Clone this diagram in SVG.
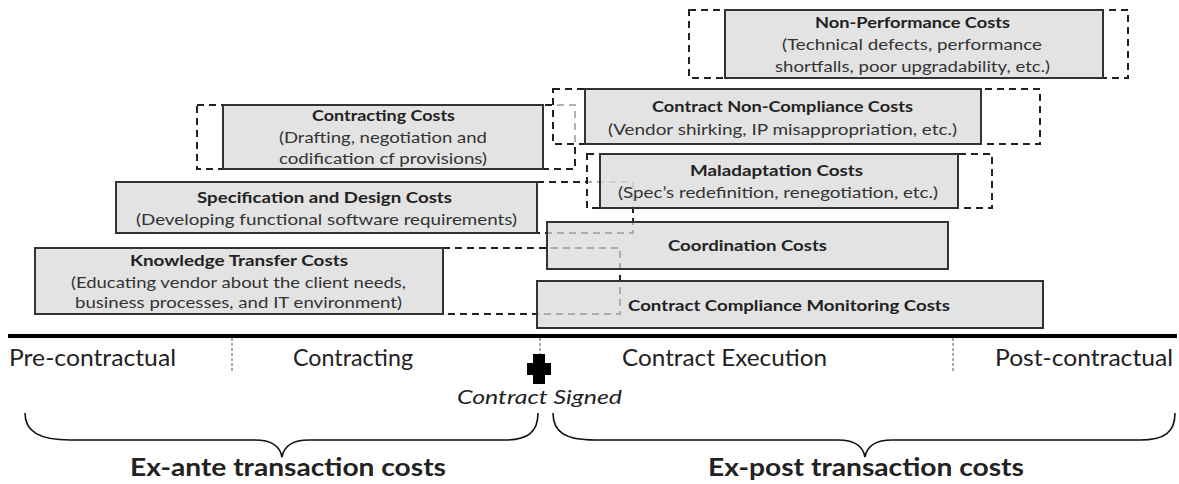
<svg xmlns="http://www.w3.org/2000/svg" width="1179" height="484" viewBox="0 0 1179 484">
<style>
text{font-family:Lato,'Liberation Sans',sans-serif;fill:#222}
.t{font-weight:bold;font-size:16px;text-anchor:middle}
.b{font-size:16px;text-anchor:middle;fill:#333}
.box{fill:#d9d9d9;fill-opacity:0.75;stroke:#333;stroke-width:2}
.dash{fill:#fff;fill-opacity:0.65;stroke:#222;stroke-width:2;stroke-dasharray:7 5}
.sep{stroke:#555;stroke-width:1;stroke-dasharray:3 2;fill:none}
.ph{font-size:24px}
.ex{font-size:25px;font-weight:bold;text-anchor:middle}
.brace{fill:none;stroke:#111;stroke-width:1.6}
</style>
<rect width="1179" height="484" fill="#fff"/>
<g id="connectors">
<rect class="dash" x="197" y="105" width="378" height="64"/>
<rect class="dash" x="537" y="182" width="96" height="51"/>
<rect class="dash" x="443" y="248" width="177" height="66"/>
<rect class="dash" x="553" y="89" width="487" height="55"/>
<rect class="dash" x="587" y="154" width="405" height="54"/>
<rect class="dash" x="689" y="10" width="439" height="68"/>
</g>
<g id="non-performance">
<rect class="box" x="725" y="10" width="378" height="68"/>
<text class="t" x="912.5" y="28" textLength="195" lengthAdjust="spacingAndGlyphs">Non-Performance Costs</text>
<text class="b" x="912" y="50" textLength="260" lengthAdjust="spacingAndGlyphs">(Technical defects, performance</text>
<text class="b" x="912.5" y="72" textLength="275" lengthAdjust="spacingAndGlyphs">shortfalls, poor upgradability, etc.)</text>
</g>
<g id="contracting">
<rect class="box" x="223" y="105" width="320" height="64"/>
<text class="t" x="383.5" y="121" textLength="143" lengthAdjust="spacingAndGlyphs">Contracting Costs</text>
<text class="b" x="383" y="143" textLength="208" lengthAdjust="spacingAndGlyphs">(Drafting, negotiation and</text>
<text class="b" x="383" y="164" textLength="208" lengthAdjust="spacingAndGlyphs">codification cf provisions)</text>
</g>
<g id="non-compliance">
<rect class="box" x="585" y="89" width="396" height="55"/>
<text class="t" x="782.5" y="112" textLength="261" lengthAdjust="spacingAndGlyphs">Contract Non-Compliance Costs</text>
<text class="b" x="782.5" y="135" textLength="349" lengthAdjust="spacingAndGlyphs">(Vendor shirking, IP misappropriation, etc.)</text>
</g>
<g id="maladaptation">
<rect class="box" x="600" y="154" width="358" height="54"/>
<text class="t" x="776.5" y="176" textLength="173" lengthAdjust="spacingAndGlyphs">Maladaptation Costs</text>
<text class="b" x="778" y="198" textLength="320" lengthAdjust="spacingAndGlyphs">(Spec’s redefinition, renegotiation, etc.)</text>
</g>
<g id="specification">
<rect class="box" x="116" y="182" width="421" height="51"/>
<text class="t" x="324.5" y="203" textLength="255" lengthAdjust="spacingAndGlyphs">Specification and Design Costs</text>
<text class="b" x="326.5" y="225" textLength="381" lengthAdjust="spacingAndGlyphs">(Developing functional software requirements)</text>
</g>
<g id="knowledge">
<rect class="box" x="35" y="248" width="408" height="66"/>
<text class="t" x="239" y="266" textLength="218" lengthAdjust="spacingAndGlyphs">Knowledge Transfer Costs</text>
<text class="b" x="238.5" y="288" textLength="335" lengthAdjust="spacingAndGlyphs">(Educating vendor about the client needs,</text>
<text class="b" x="238.5" y="308" textLength="327" lengthAdjust="spacingAndGlyphs">business processes, and IT environment)</text>
</g>
<g id="coordination">
<rect class="box" x="547" y="222" width="401" height="47"/>
<text class="t" x="747.5" y="251" textLength="159" lengthAdjust="spacingAndGlyphs">Coordination Costs</text>
</g>
<g id="compliance">
<rect class="box" x="537" y="281" width="506" height="47"/>
<text class="t" x="789" y="311" textLength="322" lengthAdjust="spacingAndGlyphs">Contract Compliance Monitoring Costs</text>
</g>
<g id="timeline">
<line x1="8" y1="336" x2="1177" y2="336" stroke="#000" stroke-width="4"/>
<line class="sep" x1="232" y1="338" x2="232" y2="373"/>
<line class="sep" x1="540" y1="338" x2="540" y2="354"/>
<line class="sep" x1="953" y1="338" x2="953" y2="373"/>
<text class="ph" x="9" y="366" textLength="167" lengthAdjust="spacingAndGlyphs">Pre-contractual</text>
<text class="ph" x="293" y="366" textLength="120" lengthAdjust="spacingAndGlyphs">Contracting</text>
<text class="ph" x="622" y="366" textLength="205" lengthAdjust="spacingAndGlyphs">Contract Execution</text>
<text class="ph" x="995" y="366" textLength="178" lengthAdjust="spacingAndGlyphs">Post-contractual</text>
</g>
<g id="contract-signed">
<path d="M533,354 h12 v9 h6 v12 h-6 v9 h-12 v-9 h-6 v-12 h6 z" fill="#000"/>
<text x="457" y="404" font-size="20" font-style="italic" textLength="165" lengthAdjust="spacingAndGlyphs">Contract Signed</text>
</g>
<g id="ex-ante">
<path class="brace" d="M25,413 C25,432 40,440 70,440 L255,440 C272,440 280,446 282,457 C284,446 292,440 309,440 L505,440 C528,440 538,432 538,413"/>
<text class="ex" x="288" y="476" textLength="316" lengthAdjust="spacingAndGlyphs">Ex-ante transaction costs</text>
</g>
<g id="ex-post">
<path class="brace" d="M553,413 C553,432 565,440 595,440 L838,440 C855,440 863,446 865,457 C867,446 875,440 892,440 L1140,440 C1165,440 1175,432 1175,413"/>
<text class="ex" x="866" y="476" textLength="316" lengthAdjust="spacingAndGlyphs">Ex-post transaction costs</text>
</g>
</svg>
